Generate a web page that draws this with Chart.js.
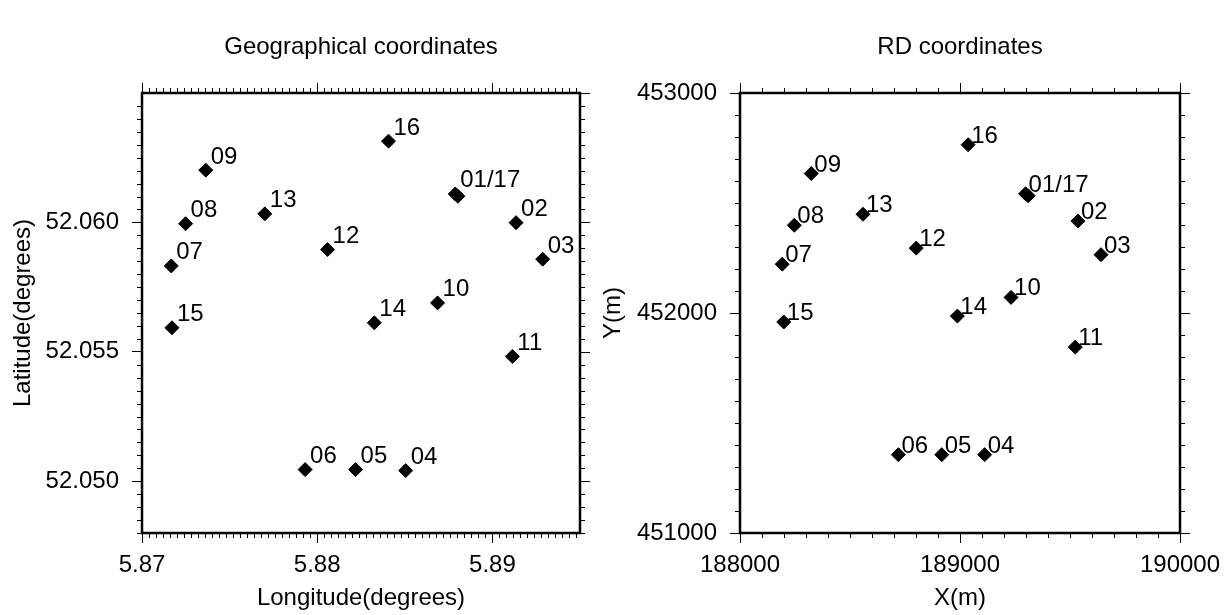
<!DOCTYPE html>
<html>
<head>
<meta charset="utf-8">
<title>Station coordinates</title>
<script src="https://cdn.jsdelivr.net/npm/chart.js@4.4.1/dist/chart.umd.min.js"></script>
<style>
  html, body { margin: 0; padding: 0; background: #fff; }
  #wrap { position: relative; width: 1231px; height: 615px; overflow: hidden; }
  #geoChart { position: absolute; left: 0; top: 0; }
  #rdChart { position: absolute; left: 590px; top: 0; }
</style>
</head>
<body>
<div id="wrap">
  <canvas id="geoChart" width="590" height="615"></canvas>
  <canvas id="rdChart" width="641" height="615"></canvas>
</div>
<script>
  // Station numbers (01 and 17 sit on the same spot, one label for both)
  const stationNames = ["01/17", "02", "03", "04", "05", "06", "07", "08", "09",
    "10", "11", "12", "13", "14", "15", "16", ""];

  // Geographical coordinates (degrees)
  const geoLon = [5.88788, 5.89135, 5.89287, 5.88505, 5.88219, 5.87931, 5.87167, 5.87249, 5.87364,
    5.88687, 5.89114, 5.88059, 5.87701, 5.88326, 5.87171, 5.88407, 5.88803];
  const geoLat = [52.06110, 52.05999, 52.05858, 52.05041, 52.05045, 52.05045, 52.05832, 52.05995, 52.06202,
    52.05689, 52.05482, 52.05895, 52.06033, 52.05612, 52.05593, 52.06314, 52.06101];

  // RD coordinates (m)
  const rdX = [189298, 189536, 189641, 189112, 188917, 188720, 188192, 188247, 188324,
    189232, 189524, 188801, 188559, 188988, 188199, 189037, 189310];
  const rdY = [452542, 452418, 452265, 451356, 451356, 451356, 452222, 452399, 452634,
    452071, 451845, 452295, 452449, 451986, 451959, 452765, 452533];

  // Annotated ticks
  const geoLonTicks = [5.87, 5.88, 5.89];
  const geoLatTicks = [52.050, 52.055, 52.060];
  const rdXTicks = [188000, 189000, 190000];
  const rdYTicks = [451000, 452000, 453000];

  const FONT = '"Liberation Sans", Arial, Helvetica, sans-serif';
  Chart.defaults.font.family = FONT;
  Chart.defaults.font.size = 24;
  Chart.defaults.color = "#000";

  function tickValues(scale, minor, major) {
    const out = [];
    const start = Math.ceil(scale.min / minor - 1e-6);
    const end = Math.floor(scale.max / minor + 1e-6);
    for (let i = start; i <= end; i++) {
      const v = i * minor;
      const r = v / major;
      out.push({ value: v, major: Math.abs(r - Math.round(r)) < 1e-6 });
    }
    return out;
  }

  // Frame with ticks on all four sides (bottom/left majors come from Chart.js itself)
  const frameTicks = {
    id: "frameTicks",
    afterDraw(chart, args, opts) {
      const { ctx, chartArea: a } = chart;
      const xs = chart.scales.x;
      const ys = chart.scales.y;
      ctx.save();
      ctx.strokeStyle = "#000";
      ctx.lineWidth = 1;
      ctx.beginPath();
      tickValues(xs, opts.xMinor, opts.xMajor).forEach(function (t) {
        const px = Math.round(xs.getPixelForValue(t.value)) + 0.5;
        const len = t.major ? 10 : 5;
        if (!t.major) {
          ctx.moveTo(px, a.bottom);
          ctx.lineTo(px, a.bottom + len);
        }
        ctx.moveTo(px, a.top);
        ctx.lineTo(px, a.top - len);
      });
      tickValues(ys, opts.yMinor, opts.yMajor).forEach(function (t) {
        const py = Math.round(ys.getPixelForValue(t.value)) + 0.5;
        const len = t.major ? 10 : 5;
        if (!t.major) {
          ctx.moveTo(a.left, py);
          ctx.lineTo(a.left - len, py);
        }
        ctx.moveTo(a.right, py);
        ctx.lineTo(a.right + len, py);
      });
      ctx.stroke();
      ctx.lineWidth = 2.5;
      ctx.strokeRect(a.left, a.top, a.right - a.left, a.bottom - a.top);
      ctx.restore();
    }
  };

  // Station number next to each diamond
  const stationLabels = {
    id: "stationLabels",
    afterDatasetsDraw(chart, args, opts) {
      const { ctx } = chart;
      const meta = chart.getDatasetMeta(0);
      ctx.save();
      ctx.font = "24px " + FONT;
      ctx.fillStyle = "#000";
      ctx.textBaseline = "alphabetic";
      ctx.textAlign = "left";
      meta.data.forEach(function (pt, i) {
        const name = stationNames[i];
        if (!name) return;
        ctx.fillText(name, pt.x + opts.dx, pt.y + opts.dy);
      });
      ctx.restore();
    }
  };

  function makeChart(id, o) {
    const points = o.xs.map(function (x, i) {
      return { x: x, y: o.ys[i] };
    });

    return new Chart(document.getElementById(id), {
      type: "scatter",
      data: {
        datasets: [
          {
            data: points,
            pointStyle: "rectRot",
            pointRadius: 7,
            pointHoverRadius: 7,
            backgroundColor: "#000",
            borderColor: "#000",
            borderWidth: 1
          }
        ]
      },
      options: {
        responsive: false,
        animation: false,
        events: [],
        layout: { padding: { left: 8.6, right: o.padRight, top: 0, bottom: 2.6 } },
        plugins: {
          legend: { display: false },
          tooltip: { enabled: false },
          title: {
            display: true,
            text: o.title,
            fullSize: false,
            color: "#000",
            font: { size: 24, weight: "normal", lineHeight: 1.2 },
            padding: { top: 32.6, bottom: 31.6 }
          },
          frameTicks: o.ticks,
          stationLabels: o.labelOffset
        },
        scales: {
          x: {
            type: "linear",
            position: "bottom",
            min: o.xMin,
            max: o.xMax,
            afterBuildTicks: function (s) {
              s.ticks = o.xTicks.map(function (v) { return { value: v }; });
            },
            afterFit: function (s) { s.height = 79.4; },
            ticks: { padding: 8, autoSkip: false, maxRotation: 0, callback: o.xFmt },
            grid: { drawOnChartArea: false, tickLength: 10, tickColor: "#000", tickWidth: 1 },
            border: { display: false },
            title: { display: true, text: o.xTitle, padding: 0, font: { size: 24, lineHeight: 1.2 } }
          },
          y: {
            type: "linear",
            position: "left",
            min: o.yMin,
            max: o.yMax,
            afterBuildTicks: function (s) {
              s.ticks = o.yTicks.map(function (v) { return { value: v }; });
            },
            afterFit: function (s) { s.width = o.yWidth; },
            ticks: { padding: 13, autoSkip: false, callback: o.yFmt },
            grid: { drawOnChartArea: false, tickLength: 10, tickColor: "#000", tickWidth: 1 },
            border: { display: false },
            title: { display: true, text: o.yTitle, padding: 0, font: { size: 24, lineHeight: 1.2 } }
          }
        }
      },
      plugins: [frameTicks, stationLabels]
    });
  }

  makeChart("geoChart", {
    title: "Geographical coordinates",
    xs: geoLon,
    ys: geoLat,
    xMin: 5.87, xMax: 5.895,
    yMin: 52.048, yMax: 52.065,
    xTicks: geoLonTicks,
    yTicks: geoLatTicks,
    xFmt: function (v) { return v.toFixed(2); },
    yFmt: function (v) { return v.toFixed(3); },
    xTitle: "Longitude(degrees)",
    yTitle: "Latitude(degrees)",
    yWidth: 133.4,
    padRight: 10,
    ticks: { xMinor: 0.0004, xMajor: 0.01, yMinor: 0.0005, yMajor: 0.005 },
    labelOffset: { dx: 5, dy: -6.5 }
  });

  makeChart("rdChart", {
    title: "RD coordinates",
    xs: rdX,
    ys: rdY,
    xMin: 188000, xMax: 190000,
    yMin: 451000, yMax: 453000,
    xTicks: rdXTicks,
    yTicks: rdYTicks,
    xFmt: function (v) { return String(v); },
    yFmt: function (v) { return String(v); },
    xTitle: "X(m)",
    yTitle: "Y(m)",
    yWidth: 141.4,
    padRight: 51,
    ticks: { xMinor: 100, xMajor: 1000, yMinor: 100, yMajor: 1000 },
    labelOffset: { dx: 3, dy: -2 }
  });
</script>
</body>
</html>
